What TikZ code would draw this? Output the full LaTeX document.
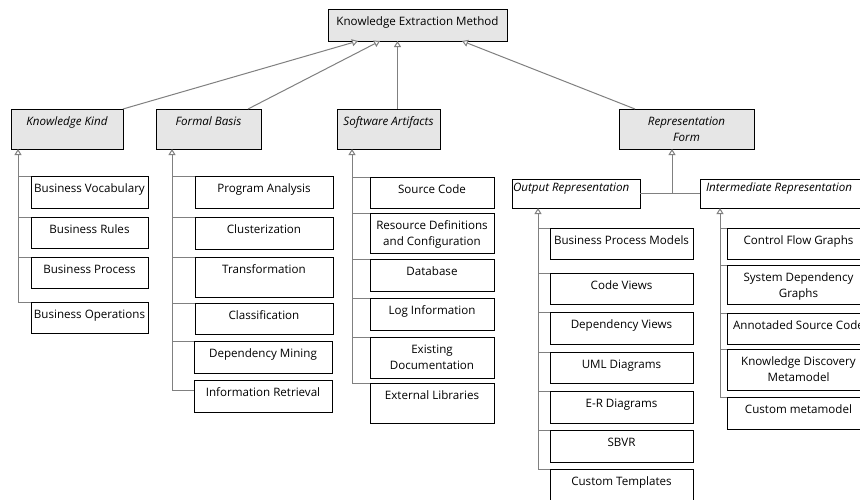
\documentclass[tikz,border=0pt]{standalone}
\usepackage{fontspec}
\setmainfont{Open Sans}
\usetikzlibrary{arrows.meta}
\definecolor{hdr}{HTML}{E6E6E6}
\definecolor{cgrey}{HTML}{808080}
\tikzset{
 box/.style={draw=black, line width=0.9pt, inner sep=0pt, outer sep=0pt, fill=white},
 hbox/.style={box, fill=hdr},
 txt/.style={inner sep=0pt, outer sep=0pt, align=center, font=\fontsize{11.6}{16}\selectfont},
 conn/.style={draw=cgrey, line width=1pt},
 gen/.style={conn, -{Triangle[open, length=6pt, width=7pt, fill=white]}},
}
\newcommand\bx[7][box]{%
 \node[#1, anchor=north west, minimum width={#5pt-#3pt}, minimum height={#6pt-#4pt}] (#2) at (#3,#4) {};
 \node[txt, anchor=north] (#2-t) at ([yshift=-6pt]#2.north) {\rule{0pt}{10pt}#7};}
\begin{document}
\begin{tikzpicture}[x=1pt,y=-1pt]
\useasboundingbox (0,0) rectangle (860,499);
\clip (0,0) rectangle (860,499);
\fill[white] (0,0) rectangle (860,499);
% top
\bx[hbox]{kem}{328}{9}{507}{41}{Knowledge Extraction Method}
% level 1
\bx[hbox]{kk}{11}{109}{123}{149}{\itshape Knowledge Kind}
\bx[hbox]{fb}{156}{109}{261}{149}{\itshape Formal Basis}
\bx[hbox]{sa}{337}{109}{440}{149}{\itshape Software Artifacts}
\bx[hbox]{rf}{619}{109}{754}{149}{\itshape Representation\\\itshape Form}
% knowledge kind
\bx{bv}{31}{176}{148}{208}{Business Vocabulary}
\bx{br}{31}{217}{148}{248}{Business Rules}
\bx{bp}{31}{257}{148}{288}{Business Process}
\bx{bo}{31}{302}{148}{333}{Business Operations}
% formal basis
\bx{pa}{195}{176}{333}{208}{Program Analysis}
\bx{cl}{195}{217}{333}{249}{Clusterization}
\bx{tr}{195}{257}{333}{297}{Transformation}
\bx{cf}{195}{303}{333}{334}{Classification}
\bx{dm}{194}{341}{332}{373}{Dependency Mining}
\bx{ir}{194}{380}{332}{412}{Information Retrieval}
% software artifacts
\bx{sc}{370}{177}{494}{208}{Source Code}
\bx{rd}{370}{213}{494}{253}{Resource Definitions\\and Configuration}
\bx{db}{370}{259}{494}{291}{Database}
\bx{li}{370}{298}{494}{330}{Log Information}
\bx{ed}{370}{337}{494}{378}{Existing\\Documentation}
\bx{el}{370}{383}{494}{423}{External Libraries}
% representation form
\node[box, anchor=north west, minimum width=128pt, minimum height=29pt] (or) at (512,179) {};
\node[txt, anchor=north west] (or-t) at ([xshift=1pt,yshift=-2pt]or.north west) {\rule{0pt}{10pt}\itshape Output Representation};
\node[box, anchor=north west, minimum width=170pt, minimum height=29pt] (im) at (700,179) {};
\node[txt, anchor=north west] (im-t) at ([xshift=6pt,yshift=-2pt]im.north west) {\rule{0pt}{10pt}\itshape Intermediate Representation};
% output
\bx{bpm}{550}{228}{693}{259}{Business Process Models}
\bx{cv}{550}{273}{693}{304}{Code Views}
\bx{dv}{550}{312}{693}{344}{Dependency Views}
\bx{uml}{550}{352}{693}{383}{UML Diagrams}
\bx{er}{550}{391}{693}{423}{E-R Diagrams}
\bx{sb}{550}{430}{693}{462}{SBVR}
\bx{ct}{550}{469}{693}{501}{Custom Templates}
% intermediate
\bx{cfg}{727}{228}{870}{259}{Control Flow Graphs}
\bx{sdg}{727}{265}{870}{304}{System Dependency\\Graphs}
\bx{asc}{727}{313}{870}{344}{Annotaded Source Code}
\bx{kdm}{727}{349}{870}{390}{Knowledge Discovery\\Metamodel}
\bx{cm}{727}{397}{870}{429}{Custom metamodel}
% trunk x coordinates
\coordinate (kkx) at (18,0);
\coordinate (fbx) at (172,0);
\coordinate (sax) at (352,0);
\coordinate (rfx) at (672,0);
\coordinate (orx) at (538,0);
\coordinate (imx) at (720,0);
% top level generalizations
\draw[gen] (kk.north east) -- ([xshift=30pt]kem.south west);
\draw[gen] ([xshift=-13pt]fb.north east) -- ([xshift=52pt]kem.south west);
\draw[gen] ([xshift=9pt]sa.north) -- ([xshift=9pt]sa.north |- kem.south);
\draw[gen] ([xshift=16pt]rf.north west) -- ([xshift=-45pt]kem.south east);
% knowledge kind tree
\draw[gen] (bo.north west) -| (kk.south -| kkx);
\foreach \n in {bv,br,bp} \draw[conn] (\n.north west) -- (\n.north west -| kkx);
% formal basis tree
\draw[gen] ([yshift=-10pt]ir.north west) -| (fb.south -| fbx);
\foreach \n in {pa,cl,tr,cf,dm} \draw[conn] (\n.north west) -- (\n.north west -| fbx);
% software artifacts tree
\draw[gen] (el.north west) -| (sa.south -| sax);
\foreach \n in {sc,rd,db,li,ed} \draw[conn] (\n.north west) -- (\n.north west -| sax);
% representation form
\draw[conn] (or.east) -- (im.west);
\draw[gen] (or.east -| rfx) -- (rf.south -| rfx);
% output tree
\draw[gen] (ct.north west) -| (or.south -| orx);
\foreach \n in {bpm,cv,dv,uml,er,sb} \draw[conn] (\n.north west) -- (\n.north west -| orx);
% intermediate tree
\draw[gen] (cm.north west) -| (im.south -| imx);
\foreach \n in {cfg,sdg,asc,kdm} \draw[conn] (\n.north west) -- (\n.north west -| imx);
\end{tikzpicture}
\end{document}
